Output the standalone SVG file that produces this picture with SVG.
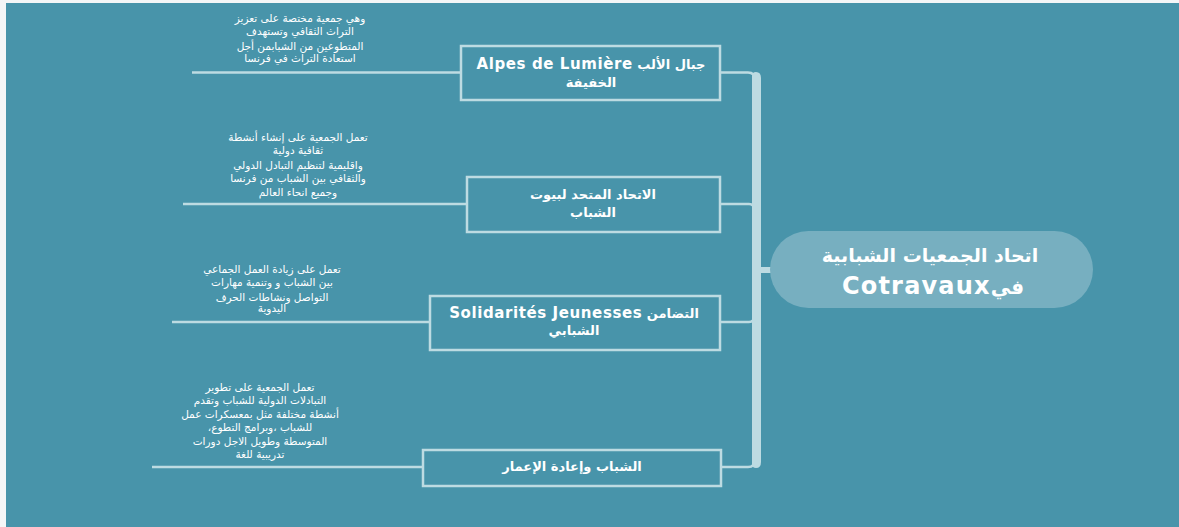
<svg xmlns="http://www.w3.org/2000/svg" width="1179" height="527" viewBox="0 0 1179 527">
<style>
.bg{fill:#4894aa}
.ln{stroke:#bddbe2;stroke-width:2.5;fill:none}
.box{fill:none;stroke:#bddbe2;stroke-width:2.5}
.title{font-family:"DejaVu Sans","Liberation Sans",sans-serif;font-weight:bold;font-size:13px;fill:#ffffff;text-anchor:middle}
.lat{font-size:15px;letter-spacing:0.6px}
.desc{font-family:"DejaVu Sans","Liberation Sans",sans-serif;font-size:10.5px;fill:#ffffff;text-anchor:middle}
.ctr{font-family:"DejaVu Sans","Liberation Sans",sans-serif;font-weight:bold;fill:#ffffff;text-anchor:middle}
</style>
<rect x="0" y="0" width="1179" height="527" fill="#f4f6f7"/>
<rect class="bg" x="6" y="3" width="1173" height="524"/>

<g id="connectors">
  <path class="ln" d="M192 72.5 H462"/>
  <path class="ln" d="M183 204 H467"/>
  <path class="ln" d="M172 322 H430"/>
  <path class="ln" d="M152 467 H423"/>
  <path class="ln" d="M720 72.5 H748 Q755 72.5 755 80"/>
  <path class="ln" d="M720 204 H749 Q754 204 754 209"/>
  <path class="ln" d="M720 322 H749 Q754 322 754 317"/>
  <path class="ln" d="M720 467 H748 Q755 467 755 460"/>
  <path d="M752 76 Q752 72 756 72 Q761 72 761 78 V462 Q761 468 756 468 Q752 468 752 464 Z" fill="#bddbe2"/>
  <rect x="760" y="267" width="12" height="6" fill="#bddbe2"/>
</g>

<g id="center">
  <rect x="770" y="231" width="323" height="77" rx="38.5" fill="#77afc0"/>
  <text class="ctr" x="930" y="262" font-size="19" direction="rtl">اتحاد الجمعيات الشبابية</text>
  <text class="ctr" x="933" y="294" font-size="20" direction="rtl">في<tspan font-size="24" letter-spacing="1.2">Cotravaux</tspan></text>
</g>

<g id="node1">
  <rect class="box" x="461" y="46" width="259" height="54"/>
  <text class="title" x="591" y="69" direction="rtl">جبال الألب <tspan class="lat">Alpes de Lumière</tspan></text>
  <text class="title" x="591" y="87" direction="rtl">الخفيفة</text>
</g>
<g id="desc1">
  <text class="desc" x="300" y="22" direction="rtl">وهي جمعية مختصة على تعزيز</text>
  <text class="desc" x="300" y="35" direction="rtl">التراث الثقافي وتستهدف</text>
  <text class="desc" x="300" y="50" direction="rtl">المتطوعين من الشبابمن أجل</text>
  <text class="desc" x="300" y="62" direction="rtl">استعادة التراث في فرنسا</text>
</g>

<g id="node2">
  <rect class="box" x="467" y="177" width="253" height="55"/>
  <text class="title" x="593" y="199" direction="rtl">الاتحاد المتحد لبيوت</text>
  <text class="title" x="593" y="217" direction="rtl">الشباب</text>
</g>
<g id="desc2">
  <text class="desc" x="298" y="141" direction="rtl">تعمل الجمعية على إنشاء أنشطة</text>
  <text class="desc" x="298" y="154" direction="rtl">ثقافية دولية</text>
  <text class="desc" x="298" y="169" direction="rtl">واقليمية لتنظيم التبادل الدولي</text>
  <text class="desc" x="298" y="182" direction="rtl">والثقافي  بين الشباب من فرنسا</text>
  <text class="desc" x="298" y="196" direction="rtl">وجميع انحاء العالم</text>
</g>

<g id="node3">
  <rect class="box" x="430" y="296" width="290" height="54"/>
  <text class="title" x="574" y="318" direction="rtl">التضامن <tspan class="lat">Solidarités Jeunesses</tspan></text>
  <text class="title" x="574" y="335" direction="rtl">الشبابي</text>
</g>
<g id="desc3">
  <text class="desc" x="272" y="273" direction="rtl">تعمل على زيادة العمل الجماعي</text>
  <text class="desc" x="272" y="286" direction="rtl">بين الشباب و وتنمية مهارات</text>
  <text class="desc" x="272" y="301" direction="rtl">التواصل ونشاطات الحرف</text>
  <text class="desc" x="272" y="312" direction="rtl">اليدوية</text>
</g>

<g id="node4">
  <rect class="box" x="423" y="450" width="298" height="36"/>
  <text class="title" x="572" y="471" direction="rtl">الشباب وإعادة الإعمار</text>
</g>
<g id="desc4">
  <text class="desc" x="260" y="391" direction="rtl">تعمل الجمعية على تطوير</text>
  <text class="desc" x="260" y="404" direction="rtl">التبادلات الدولية للشباب وتقدم</text>
  <text class="desc" x="260" y="418" direction="rtl">أنشطة مختلفة مثل بمعسكرات عمل</text>
  <text class="desc" x="260" y="431" direction="rtl">للشباب ،وبرامج التطوع،</text>
  <text class="desc" x="260" y="445" direction="rtl">المتوسطة وطويل الاجل  دورات</text>
  <text class="desc" x="260" y="458" direction="rtl">تدريبية للغة</text>
</g>
</svg>
